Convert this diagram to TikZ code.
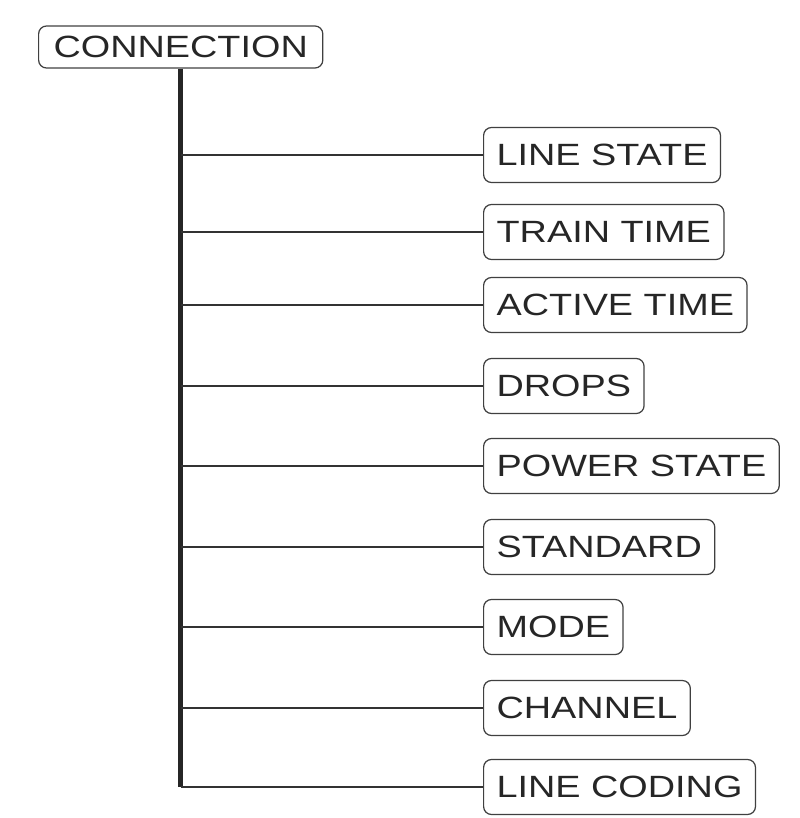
\documentclass[tikz,border=0pt]{standalone}
\usepackage{fontspec}
\setmainfont{Liberation Sans}
\usepackage{tikz}
\usetikzlibrary{positioning}

\newcommand{\wide}[1]{\scalebox{1.23}[1]{#1}}

\begin{document}
\begin{tikzpicture}[x=0.02cm, y=-0.02cm,
  box/.style={draw=black!75, line width=0.7pt, rounded corners=4.5pt, anchor=west,
    font=\fontsize{17.5}{20}\selectfont, text=black!85, minimum height=1.1cm, inner xsep=0.26cm},
  trunk/.style={line width=2.8pt, black!85},
  branch/.style={line width=1.2pt, black!80}]
\useasboundingbox (0,0) rectangle (800,818);

% Root box
\node[box, minimum height=0.84cm, inner xsep=0.3cm] (conn) at (38,47) {\wide{CONNECTION}};

% Leaf boxes
\node[box] (lstate) at (483,155) {\wide{LINE STATE}};
\node[box] (train) at (483,232) {\wide{TRAIN TIME}};
\node[box] (active) at (483,305) {\wide{ACTIVE TIME}};
\node[box] (drops) at (483,386) {\wide{DROPS}};
\node[box] (power) at (483,466) {\wide{POWER STATE}};
\node[box] (std) at (483,547) {\wide{STANDARD}};
\node[box] (mode) at (483,627) {\wide{MODE}};
\node[box] (chan) at (483,708) {\wide{CHANNEL}};
\node[box] (lcode) at (483,787) {\wide{LINE CODING}};

% Trunk
\draw[trunk] (conn.south) -- (conn.south |- lcode.west);

% Branches
\draw[branch] (conn.south |- lstate.west) -- (lstate.west);
\draw[branch] (conn.south |- train.west) -- (train.west);
\draw[branch] (conn.south |- active.west) -- (active.west);
\draw[branch] (conn.south |- drops.west) -- (drops.west);
\draw[branch] (conn.south |- power.west) -- (power.west);
\draw[branch] (conn.south |- std.west) -- (std.west);
\draw[branch] (conn.south |- mode.west) -- (mode.west);
\draw[branch] (conn.south |- chan.west) -- (chan.west);
\draw[branch] (conn.south |- lcode.west) -- (lcode.west);
\end{tikzpicture}
\end{document}
